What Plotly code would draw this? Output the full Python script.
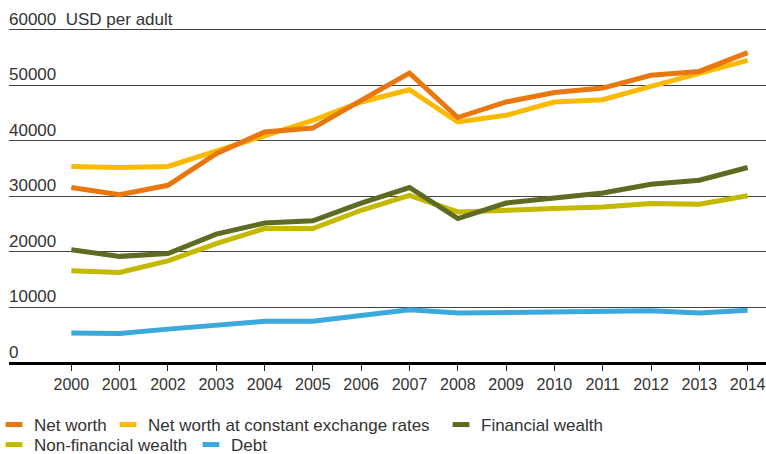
import plotly.graph_objects as go

years = list(range(2000, 2015))
net_worth = [31600, 30300, 32000, 37700, 41600, 42300, 47300, 52200, 44200, 47000, 48700, 49500, 51800, 52500, 55900]
net_worth_const = [35400, 35200, 35400, 38200, 41000, 43700, 47000, 49200, 43400, 44600, 47000, 47400, 49800, 52200, 54500]
financial = [20400, 19200, 19700, 23200, 25200, 25600, 28800, 31600, 26000, 28800, 29700, 30600, 32200, 32900, 35200]
non_financial = [16600, 16300, 18400, 21500, 24200, 24200, 27500, 30200, 27200, 27400, 27800, 28100, 28700, 28600, 30100]
debt = [5400, 5300, 6100, 6900, 7500, 7500, 8600, 9600, 9000, 9100, 9000, 9200, 9400, 9000, 9500]

y_ticks = [0, 10000, 20000, 30000, 40000, 50000, 60000]
y_tick_labels = ["0", "10000", "20000", "30000", "40000", "50000", "60000  USD per adult"]

series_names = ["Net worth", "Net worth at constant exchange rates", "Financial wealth",
                "Non-financial wealth", "Debt"]
series_values = [net_worth, net_worth_const, financial, non_financial, debt]
series_colors = ["#E8780E", "#FBBA00", "#5E6B22", "#C5B800", "#3CA9DC"]
legend_ids = ["legend", "legend2", "legend3", "legend4", "legend5"]

fig = go.Figure()
# draw order: debt first, net worth on top
for i in [4, 3, 2, 1, 0]:
    fig.add_trace(go.Scatter(x=years, y=series_values[i], mode="lines", name=series_names[i],
                             line=dict(color=series_colors[i], width=5),
                             showlegend=False))
for i in range(5):
    fig.add_trace(go.Scatter(x=[None], y=[None], mode="markers", name=series_names[i],
                             marker=dict(symbol="line-ew", size=12,
                                         line=dict(color=series_colors[i], width=5)),
                             legend=legend_ids[i], showlegend=True))

font_family = "Liberation Sans, Arial, sans-serif"
for v, lab in zip(y_ticks, y_tick_labels):
    fig.add_annotation(x=0, xref="paper", xanchor="left", y=v, yref="y",
                       yanchor="bottom", text=lab, showarrow=False,
                       font=dict(family=font_family, size=17, color="#333333"),
                       xshift=-2, yshift=-1)

L, T, B = 9, 27, 91
W = 766 - L
H = 454 - T - B

def lx(px):
    return (px - L) / W

def ly(py):
    return (454 - B - py) / H

# legend box left edges (px) and row centres (px)
legend_pos = [(-6, 425), (108, 425), (441, 425), (-6, 445), (191, 445)]
layout_legends = {}
for lid, (px, py) in zip(legend_ids, legend_pos):
    layout_legends[lid] = dict(orientation="h", x=lx(px), xanchor="left",
                               y=ly(py), yanchor="middle", xref="paper", yref="paper",
                               font=dict(family=font_family, size=17, color="#333333"),
                               itemwidth=30, bgcolor="rgba(0,0,0,0)", borderwidth=0)

fig.update_layout(
    width=766, height=454,
    margin=dict(l=L, r=0, t=T, b=B, autoexpand=False),
    plot_bgcolor="white", paper_bgcolor="white",
    font=dict(family=font_family, size=17, color="#333333"),
    xaxis=dict(range=[1998.71, 2014.38], tickmode="array", tickvals=years,
               ticktext=[str(y) for y in years], showgrid=False, zeroline=False,
               ticks="outside", ticklen=7, tickcolor="#222222", tickwidth=1,
               showline=False, automargin=False, ticklabeloverflow="allow",
               tickfont=dict(family=font_family, size=16, color="#333333")),
    yaxis=dict(range=[0, 60500], tickvals=y_ticks, showticklabels=False,
               showgrid=True, gridcolor="#444444", gridwidth=1,
               zeroline=True, zerolinecolor="#000000", zerolinewidth=3,
               showline=False, automargin=False),
    hovermode="closest",
    **layout_legends,
)

fig.write_html("out.html", config={"displayModeBar": False},
               post_script="document.body.style.margin='0';document.body.style.overflow='hidden';")
